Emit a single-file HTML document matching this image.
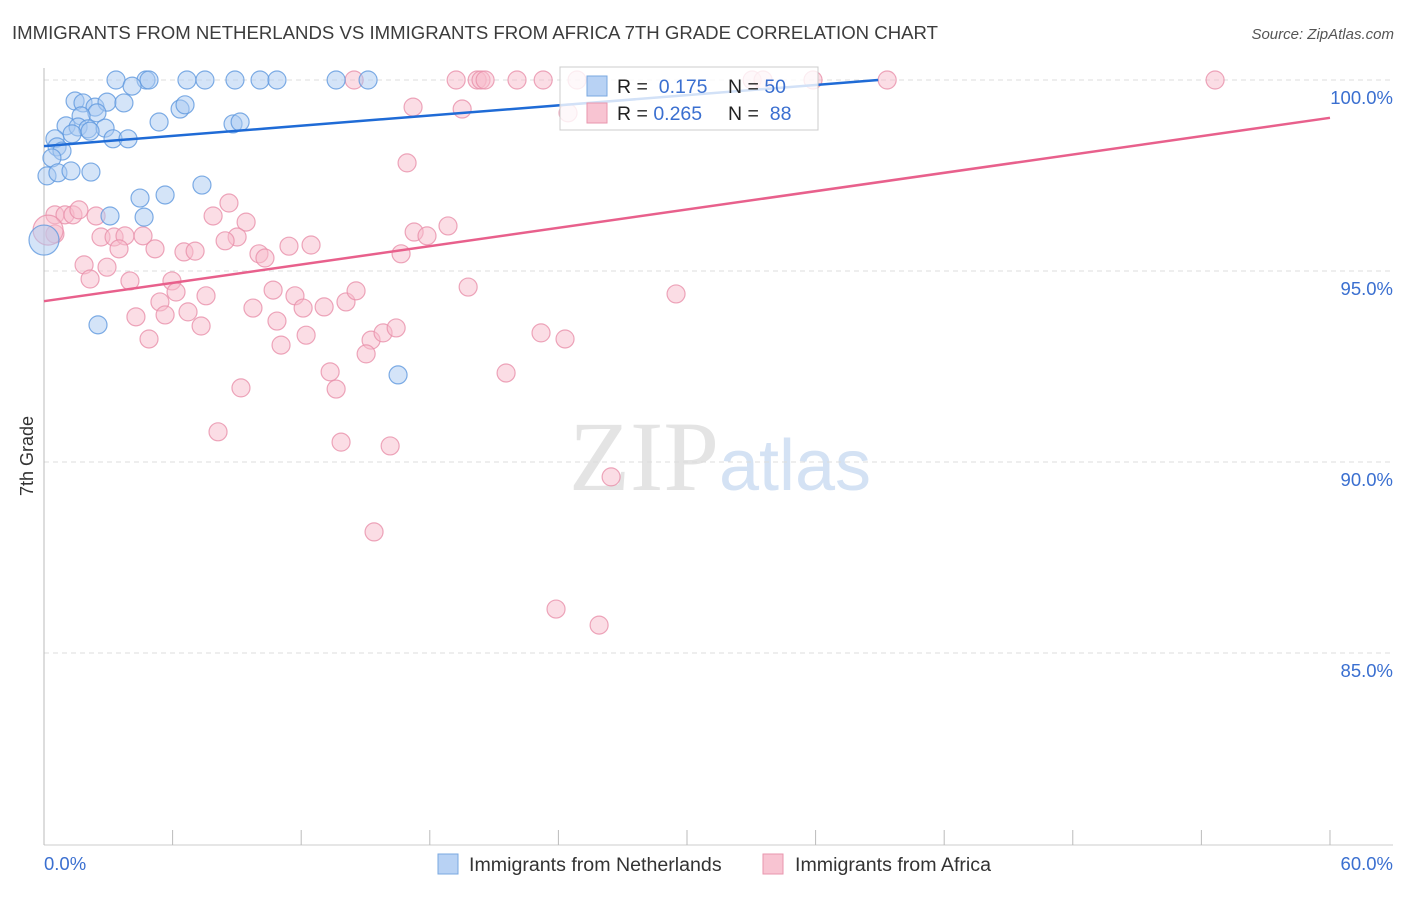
<!DOCTYPE html>
<html><head><meta charset="utf-8"><style>
body{margin:0;background:#fff;font-family:"Liberation Sans",sans-serif}
</style></head><body>
<svg id="chart" width="1406" height="892" xmlns="http://www.w3.org/2000/svg" font-family="Liberation Sans, sans-serif">
<text x="12" y="39" font-size="18.6" fill="#3c3c3c">IMMIGRANTS FROM NETHERLANDS VS IMMIGRANTS FROM AFRICA 7TH GRADE CORRELATION CHART</text>
<text x="1394" y="39" font-size="15" fill="#555" font-style="italic" text-anchor="end">Source: ZipAtlas.com</text>
<text x="720" y="490" font-size="100" text-anchor="middle" fill="#e4e4e4" font-family="Liberation Serif, serif">ZIP<tspan fill="#d4e2f4" font-family="Liberation Sans, sans-serif" font-size="72">atlas</tspan></text>
<text transform="translate(33,456) rotate(-90)" font-size="18" fill="#333" text-anchor="middle">7th Grade</text>
<g id="grid"></g><g id="axes"></g><g id="pts"></g><g id="trends"></g>
<g>
<rect x="560" y="67" width="258" height="63" fill="#fff" fill-opacity="0.8" stroke="#ccc"/>
<rect x="587" y="76" width="20" height="20" fill="#b8d2f4" stroke="#7aa8e0"/>
<rect x="587" y="103" width="20" height="20" fill="#f8c4d2" stroke="#e896ae"/>
<text x="617" y="93" font-size="19.5" fill="#222">R = <tspan fill="#3a6fd0">&#160;0.175</tspan><tspan x="728">N = </tspan><tspan fill="#3a6fd0">50</tspan></text>
<text x="617" y="120" font-size="19.5" fill="#222">R = <tspan fill="#3a6fd0">0.265</tspan><tspan x="728">N = </tspan><tspan fill="#3a6fd0">&#160;88</tspan></text>
</g>
<g>
<rect x="438" y="854" width="20" height="20" fill="#b8d2f4" stroke="#7aa8e0"/>
<text x="469" y="871" font-size="19.6" fill="#333">Immigrants from Netherlands</text>
<rect x="763" y="854" width="20" height="20" fill="#f8c4d2" stroke="#e896ae"/>
<text x="795" y="871" font-size="19.6" fill="#333">Immigrants from Africa</text>
</g>
<text x="44" y="870" font-size="18.5" fill="#3a6fd0">0.0%</text>
<text x="1393" y="870" font-size="18.5" fill="#3a6fd0" text-anchor="end">60.0%</text>
</svg>
<script>
const yTicks=[100,95,90,85];
const yTickLabels=["100.0%","95.0%","90.0%","85.0%"];
const xTicks=[0,6,12,18,24,30,36,42,48,54,60];
const nlX=[3.36,4.76,4.90,6.67,7.51,8.91,10.08,10.87,13.63,15.12,4.11,1.45,1.82,2.38,2.94,3.73,6.35,6.58,2.47,1.73,1.03,1.59,2.05,2.85,5.37,8.82,9.15,1.31,2.15,0.51,3.22,3.92,0.61,0.84,0.37,0.14,0.65,1.26,2.19,4.48,5.65,7.37,3.08,4.67,0,2.52,16.52];
const nlY=[100,100,100,100,100,100,100,100,100,100,99.84,99.45,99.40,99.29,99.42,99.40,99.24,99.35,99.14,99.06,98.80,98.77,98.72,98.74,98.90,98.85,98.90,98.59,98.66,98.46,98.46,98.46,98.25,98.14,97.96,97.49,97.57,97.62,97.59,96.91,96.99,97.25,96.44,96.41,95.81,93.59,92.28];
const afX=[14.47,19.23,20.21,20.39,20.58,22.07,23.29,24.87,33.04,33.55,35.88,39.34,54.64,17.22,19.51,24.45,16.94,0.51,0.98,1.35,1.63,2.43,8.63,7.89,9.43,18.85,17.27,17.87,2.66,3.27,3.78,4.62,9.01,8.45,0.51,0.19,3.50,5.18,6.53,7.05,10.03,10.31,11.43,12.46,16.66,1.87,2.94,2.15,4.01,5.97,6.16,7.56,5.41,6.72,10.69,11.71,12.09,13.07,14.09,14.56,19.79,29.49,4.29,5.65,7.33,9.75,10.87,12.23,4.90,11.06,15.26,15.82,16.43,15.03,23.19,24.31,13.35,13.63,21.56,9.19,8.12,13.86,16.15,26.46,15.40,23.89,25.90];
const afY=[100,100,100,100,100,100,100,100,100,100,100,100,100,99.29,99.24,99.14,97.83,96.47,96.47,96.47,96.60,96.44,96.78,96.44,96.28,96.18,96.02,95.92,95.89,95.89,95.92,95.92,95.89,95.79,95.97,96.07,95.58,95.58,95.50,95.52,95.45,95.34,95.65,95.68,95.45,95.16,95.10,94.79,94.74,94.74,94.45,94.35,94.19,93.93,94.50,94.35,94.03,94.06,94.19,94.48,94.58,94.40,93.80,93.85,93.56,94.03,93.69,93.32,93.22,93.06,93.19,93.38,93.51,92.83,93.38,93.22,92.36,91.91,92.33,91.94,90.79,90.52,90.42,89.61,88.17,86.15,85.73];
const nlTrend=[[0,98.27],[38.92,100]];
const afTrend=[[0,94.21],[60,99.01]];
const NS="http://www.w3.org/2000/svg";
const X=v=>44+v*21.433, Y=v=>80+(100-v)*38.2;
function mk(p,t,a){const e=document.createElementNS(NS,t);for(const k in a)e.setAttribute(k,a[k]);p.appendChild(e);return e;}
const grid=document.getElementById('grid'),axes=document.getElementById('axes'),pts=document.getElementById('pts'),tr=document.getElementById('trends');
yTicks.forEach((t,i)=>{
 const l=mk(grid,'line',{x1:44,x2:1393,y1:Y(t),y2:Y(t),stroke:'#ddd','stroke-dasharray':'5,4'});
 
 
 const tx=mk(grid,'text',{x:1393,y:Y(t)+24,'font-size':18.5,fill:'#3a6fd0','text-anchor':'end'});
 tx.textContent=yTickLabels[i];
 
 
});
const la=mk(axes,'line',{x1:44,x2:44,y1:68,y2:845,stroke:'#bbb'});


const ba=mk(axes,'line',{x1:44,x2:1393,y1:845,y2:845,stroke:'#ccc'});


xTicks.forEach(t=>{
 const k=mk(axes,'line',{x1:X(t),x2:X(t),y1:830,y2:845,stroke:'#bbb'});
 
 
});
function dots(xs,ys,fill,stroke,name){
 xs.forEach((x,i)=>{
  const big=(x===0||(x<0.25&&name==='africa-point'));
  const c=mk(pts,'circle',{cx:X(x),cy:Y(ys[i]),r:big?15:9,fill:fill,'fill-opacity':0.5,stroke:stroke,'stroke-width':1.2,'stroke-opacity':0.8});
  
  
 });
}
dots(afX,afY,'#f8bccc','#e890aa','africa-point');
dots(nlX,nlY,'#a9c9f2','#5f98de','netherlands-point');
const t1=mk(tr,'line',{x1:X(nlTrend[0][0]),y1:Y(nlTrend[0][1]),x2:X(nlTrend[1][0]),y2:Y(nlTrend[1][1]),stroke:'#1f6bd6','stroke-width':2.5});


const t2=mk(tr,'line',{x1:X(afTrend[0][0]),y1:Y(afTrend[0][1]),x2:X(afTrend[1][0]),y2:Y(afTrend[1][1]),stroke:'#e8608c','stroke-width':2.5});


</script>
</body></html>
